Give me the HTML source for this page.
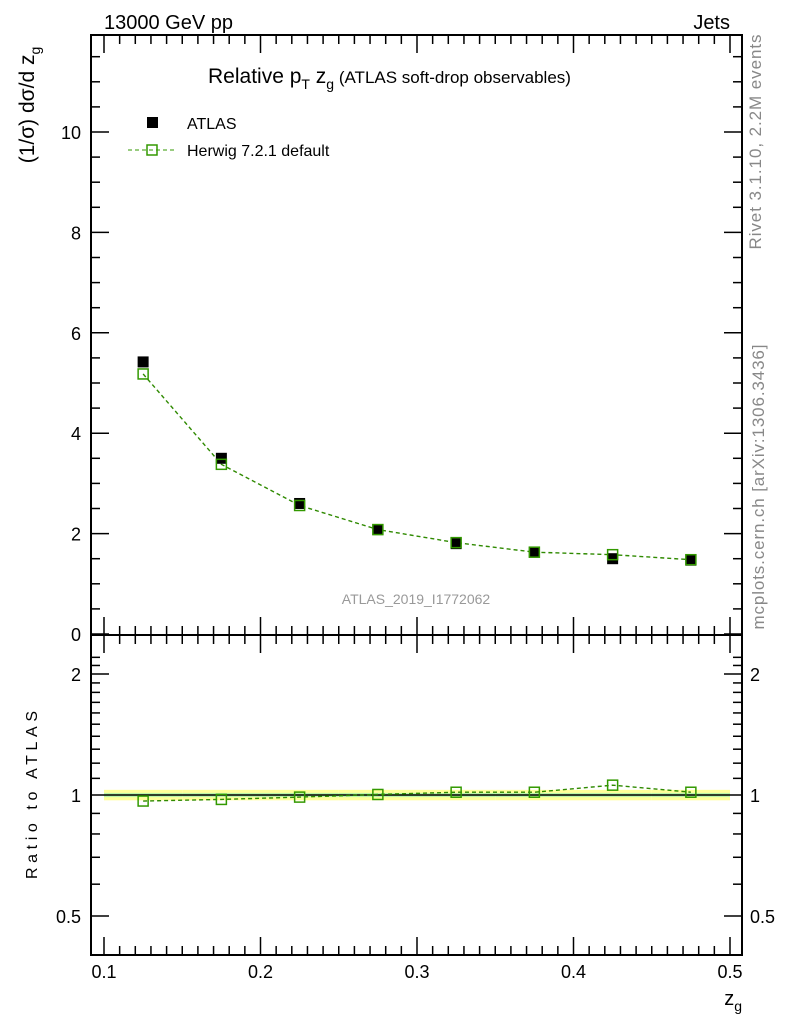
<!DOCTYPE html>
<html><head><meta charset="utf-8"><style>
body{margin:0;background:#fff}
svg{font-family:"Liberation Sans",sans-serif}
</style></head><body>
<svg id="c" width="786" height="1024" xmlns="http://www.w3.org/2000/svg">
<text x="104" y="29" font-size="20">13000 GeV pp</text>
<text x="730" y="29" font-size="20" text-anchor="end">Jets</text>
<text x="208" y="83" font-size="21">Relative p<tspan font-size="14" dy="6">T</tspan><tspan dy="-6"> z</tspan><tspan font-size="14" dy="6">g</tspan><tspan font-size="17" dy="-6"> (ATLAS soft-drop observables)</tspan></text>
<text transform="translate(761,142) rotate(-90)" font-size="17" fill="#888" text-anchor="middle" textLength="215">Rivet 3.1.10,  2.2M events</text>
<text transform="translate(764,487) rotate(-90)" font-size="17" fill="#888" text-anchor="middle" textLength="285">mcplots.cern.ch [arXiv:1306.3436]</text>
<text x="416" y="604" font-size="14" fill="#999" text-anchor="middle">ATLAS_2019_I1772062</text>
<text transform="translate(34,105) rotate(-90)" font-size="21" text-anchor="middle">(1/σ) dσ/d z<tspan font-size="14" dy="6">g</tspan></text>
<text transform="translate(37,795) rotate(-90)" font-size="16" text-anchor="middle" textLength="168">Ratio to ATLAS</text>
<text x="742" y="1005" font-size="20" text-anchor="end">z<tspan font-size="14" dy="6">g</tspan></text>
<rect x="147" y="117" width="11" height="11" fill="#000"/>
<text x="187" y="129" font-size="16">ATLAS</text>
<line x1="128" y1="150" x2="177" y2="150" stroke="#339900" stroke-dasharray="4,3"/>
<rect x="147" y="145" width="10" height="10" fill="none" stroke="#339900" stroke-width="1.5"/>
<text x="187" y="156" font-size="16">Herwig 7.2.1 default</text>
<g id="g"></g>
</svg>
<script>
const xCenters=[0.125,0.175,0.225,0.275,0.325,0.375,0.425,0.475];
const atlasVals=[5.42,3.5,2.6,2.08,1.8,1.63,1.5,1.47];
const herwigVals=[5.18,3.38,2.56,2.08,1.82,1.63,1.58,1.48];
const ratioVals=[0.966,0.975,0.988,1.003,1.016,1.016,1.058,1.016];
const xTicks=[0.1,0.2,0.3,0.4,0.5];
const yTicks=[0,2,4,6,8,10];
const rTicks=[0.5,1,2];
const L=91,R=742,T=35,M=635,B=955;
const X=v=>104+(v-0.1)/0.4*626;
const Y=v=>634-v*50.2;
const RY=v=>795-Math.log(v)*174.6;
const g=document.getElementById('g');
const NS='http://www.w3.org/2000/svg';
function mk(t,a){const e=document.createElementNS(NS,t);for(const k in a)e.setAttribute(k,a[k]);g.appendChild(e);return e;}
let e=mk('rect',{x:L,y:T,width:R-L,height:M-T,fill:'none',stroke:'#000','stroke-width':2});


e=mk('rect',{x:L,y:M,width:R-L,height:B-M,fill:'none',stroke:'#000','stroke-width':2});


for(let v=0.1;v<=0.5001;v+=0.01){const x=X(v);const major=Math.abs(v*10-Math.round(v*10))<1e-6;const len=major?18:9;
 for(const [y0,d] of [[T,1],[M,-1],[M,1],[B,-1]]){const l=mk('line',{x1:x,x2:x,y1:y0,y2:y0+d*len,stroke:'#000','stroke-width':1.5});}}
xTicks.forEach(v=>{const t=mk('text',{x:X(v),y:978,'font-size':18,'text-anchor':'middle'});t.textContent=v.toFixed(1);});
for(let v=0;v<=11.8;v+=0.5){const y=Y(v);const major=Math.abs(v-Math.round(v/2)*2)<1e-6;const len=major?18:9;
 for(const [x0,d] of [[L,1],[R,-1]]){const l=mk('line',{x1:x0,x2:x0+d*len,y1:y,y2:y,stroke:'#000','stroke-width':1.5});}}
yTicks.forEach(v=>{const t=mk('text',{x:81,y:Y(v)+7,'font-size':18,'text-anchor':'end'});t.textContent=v;});
for(let v=0.4;v<=2.3;v+=0.1){const y=RY(v);if(y<M||y>B)continue;const major=rTicks.some(r=>Math.abs(r-v)<1e-6);const len=major?18:9;
 for(const [x0,d] of [[L,1],[R,-1]]){const l=mk('line',{x1:x0,x2:x0+d*len,y1:y,y2:y,stroke:'#000','stroke-width':1.5});}}
rTicks.forEach(v=>{for(const [x,a] of [[81,'end'],[750,'start']]){const t=mk('text',{x:x,y:RY(v)+7,'font-size':18,'text-anchor':a});t.textContent=v;}});
xCenters.forEach((c,i)=>{const x0=X(c-0.025),x1=X(c+0.025);
 let b=mk('rect',{x:x0,y:RY(1.03),width:x1-x0,height:RY(0.97)-RY(1.03),fill:'#ffff99'});
 b=mk('rect',{x:x0,y:RY(1.012),width:x1-x0,height:RY(0.988)-RY(1.012),fill:'#bbf5a8'});});
e=mk('line',{x1:104,x2:730,y1:RY(1),y2:RY(1),stroke:'#000','stroke-width':1.5});


e=mk('polyline',{points:xCenters.map((c,i)=>X(c)+','+Y(herwigVals[i])).join(' '),fill:'none',stroke:'#2f8a00','stroke-width':1.4,'stroke-dasharray':'4,3'});


e=mk('polyline',{points:xCenters.map((c,i)=>X(c)+','+RY(ratioVals[i])).join(' '),fill:'none',stroke:'#2f8a00','stroke-width':1.4,'stroke-dasharray':'4,3'});


xCenters.forEach((c,i)=>{
 let r=mk('rect',{x:X(c)-5.5,y:Y(atlasVals[i])-5.5,width:11,height:11,fill:'#000'});
 
 
 r=mk('rect',{x:X(c)-5,y:Y(herwigVals[i])-5,width:10,height:10,fill:'none',stroke:'#339900','stroke-width':1.5});
 
 
 r=mk('rect',{x:X(c)-5,y:RY(ratioVals[i])-5,width:10,height:10,fill:'none',stroke:'#339900','stroke-width':1.5});
 
 
});
</script>
</body></html>
